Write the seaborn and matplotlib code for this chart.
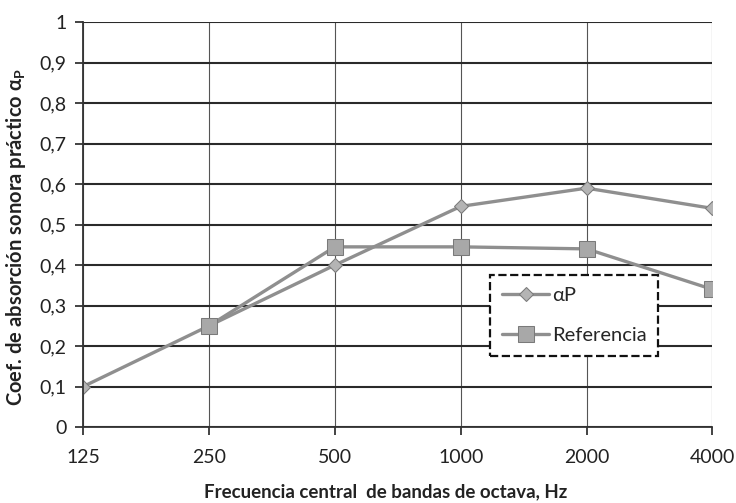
import matplotlib.pyplot as plt
import numpy as np
import pandas as pd
import seaborn as sns

frecuencias = ["125", "250", "500", "1000", "2000", "4000"]
alpha_p = [0.10, 0.25, 0.40, 0.545, 0.59, 0.54]
referencia = [np.nan, 0.25, 0.445, 0.445, 0.44, 0.34]
y_ticks = [0, 0.1, 0.2, 0.3, 0.4, 0.5, 0.6, 0.7, 0.8, 0.9, 1.0]

df = pd.DataFrame({
    "pos": range(len(frecuencias)),
    "frecuencia": frecuencias,
    "alpha_p": alpha_p,
    "referencia": referencia,
})

sns.set_style("white")
plt.rcParams["font.family"] = ["Lato", "DejaVu Sans"]

fig = plt.figure(figsize=(7.36, 5.03), dpi=100)
ax = fig.add_axes([0.113, 0.151, 0.855, 0.805])

line_kw = dict(color="#8f8f8f", linewidth=2.4, markeredgecolor="#7a7a7a")
sns.lineplot(data=df, x="pos", y="alpha_p", ax=ax, marker="D", markersize=7,
             markerfacecolor="#b4b4b4", label="αP", **line_kw)
sns.lineplot(data=df.dropna(), x="pos", y="referencia", ax=ax, marker="s",
             markersize=11, markerfacecolor="#a8a8a8", label="Referencia", **line_kw)

ax.set_xlim(0, len(frecuencias) - 1)
ax.set_ylim(0, 1)
ax.set_xticks(range(len(frecuencias)))
ax.set_xticklabels(frecuencias)
ax.set_yticks(y_ticks)
ax.set_yticklabels([f"{v:g}".replace(".", ",") for v in y_ticks])
ax.tick_params(axis="both", labelsize=14, colors="#222222", length=6, width=1.2,
               direction="out", bottom=True, left=True)
ax.tick_params(axis="x", pad=10)
ax.tick_params(axis="y", pad=6)

ax.grid(axis="y", color="#2a2a2a", linewidth=1.5)
ax.grid(axis="x", color="#555555", linewidth=0.8)
ax.set_axisbelow(True)
for side in ["top", "right"]:
    ax.spines[side].set_visible(False)
for side in ["left", "bottom"]:
    ax.spines[side].set_color("#333333")
    ax.spines[side].set_linewidth(1.3)

ax.set_xlabel("Frecuencia central  de bandas de octava, Hz", fontsize=13.5,
              fontweight="bold", color="#222222")
ax.xaxis.set_label_coords(0.48, -0.138)
ax.set_ylabel("Coef. de absorción sonora práctico α$_\\mathregular{P}$", fontsize=14.5,
              fontweight="bold", color="#222222")
ax.yaxis.set_label_coords(-0.087, 0.47)

leg = ax.legend(loc="upper left", bbox_to_anchor=(0.647, 0.375), borderaxespad=0,
                fontsize=14.5, fancybox=False, framealpha=1, handlelength=2.3,
                borderpad=0.6, labelspacing=1.1, handletextpad=0.15)
frame = leg.get_frame()
frame.set_edgecolor("#111111")
frame.set_linestyle("--")
frame.set_linewidth(1.6)

fig.savefig("out.png", dpi=100)
plt.close(fig)
